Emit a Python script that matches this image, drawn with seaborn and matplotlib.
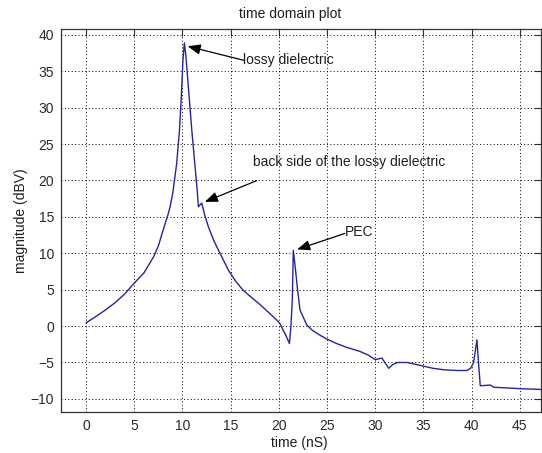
import numpy as np
import pandas as pd
import seaborn as sns
import matplotlib
matplotlib.use("Agg")
import matplotlib.pyplot as plt

sns.set_style("white")
plt.rcParams['font.family'] = ['Liberation Sans', 'DejaVu Sans']

# values
time_ns = [0, 1, 2, 3, 4, 5, 6, 6.5, 7, 7.5, 8, 8.5, 8.72, 9, 9.4, 9.7, 9.9, 10.05, 10.2,
           10.35, 10.97, 11.5, 11.66, 12.0, 12.3, 12.7, 13.3, 13.9, 14.8, 15.5, 16.3,
           17.2, 18.1, 19.0, 19.8,
           20.1, 20.7, 21.1, 21.25, 21.4, 21.5, 21.7, 21.95, 22.2, 22.9, 23.5,
           24.2, 25.0, 26.0, 27.0, 28.45, 29.3, 30.0, 30.7, 31.4, 31.8, 32.3, 33.3,
           34.0, 35.0, 36.0, 37.1, 38.5, 39.5,
           39.9, 40.2, 40.4, 40.55, 40.7, 40.9, 41.95, 42.3, 45.1, 47.2]
magnitude = [0.45, 1.3, 2.2, 3.2, 4.4, 5.9, 7.3, 8.4, 9.5, 11.0, 13.2, 15.3, 16.4, 18.3, 22.3,
             27.0, 32.0, 36.5, 38.9,
             37.2, 26.9, 19.1, 16.4, 16.9, 15.3, 13.6, 11.6, 10.0, 7.6, 6.2, 4.9,
             3.9, 2.9, 1.8, 0.8,
             0.37, -1.2, -2.4, -0.1, 3.6, 10.4, 8.1, 4.9, 2.2, 0.14, -0.6,
             -1.2, -1.8, -2.4, -2.9, -3.5, -4.0, -4.6, -4.4, -5.8, -5.3, -5.0, -5.0,
             -5.2, -5.5, -5.8, -6.0, -6.1, -6.1,
             -5.8, -5.0, -3.3, -1.9, -4.7, -8.2, -8.1, -8.4, -8.6, -8.7]

labels = ["lossy dielectric", "back side of the lossy dielectric", "PEC"]
label_xy = [(16.3, 36.5), (17.3, 22.5), (26.9, 12.9)]
arrow_tail = [(16.37, 36.5), (17.69, 19.97), (26.84, 12.72)]
arrow_tip = [(10.54, 38.43), (12.33, 17.06), (21.9, 10.53)]

df = pd.DataFrame({"time": time_ns, "mag": magnitude})

fig = plt.figure(figsize=(5.42, 4.53), dpi=100)
ax = fig.add_axes([61 / 542, 41 / 453, 480 / 542, 383 / 453])

sns.lineplot(data=df, x="time", y="mag", ax=ax, color="#25259b", lw=1.0,
             sort=False, estimator=None)

ax.set_xlim(-2.6, 47.2)
ax.set_ylim(-11.8, 40.8)
ax.set_xticks(np.arange(0, 46, 5))
ax.set_yticks(np.arange(-10, 41, 5))
ax.grid(True, linestyle=(0, (1, 2.5)), color="black", lw=0.7)
ax.tick_params(direction="in", length=5, width=0.8, top=True, right=True,
               labelsize=10, colors="#2a2a2a", pad=5)
for s in ax.spines.values():
    s.set_color("#333333")
    s.set_linewidth(0.9)
ax.set_xlabel("")
ax.set_ylabel("")

txt = "#1e1e1e"
fig.text(290 / 542, 1 - 14 / 453, "time domain plot", ha="center", va="center",
         fontsize=10, color=txt)
fig.text(299 / 542, 1 - 443 / 453, "time (nS)", ha="center", va="center",
         fontsize=10, color=txt)
fig.text(21 / 542, 1 - 221 / 453, "magnitude (dBV)", ha="center", va="center",
         rotation=90, fontsize=10, color=txt)

for lab, pos, tail, tip in zip(labels, label_xy, arrow_tail, arrow_tip):
    ax.annotate("", xy=tip, xytext=tail,
                arrowprops=dict(arrowstyle="-|>,head_length=0.55,head_width=0.22",
                                color="black", lw=0.9, mutation_scale=14,
                                shrinkA=0, shrinkB=0))
    ax.text(pos[0], pos[1], lab, ha="left", va="center", fontsize=10, color=txt)

fig.savefig("out.png", dpi=100)
